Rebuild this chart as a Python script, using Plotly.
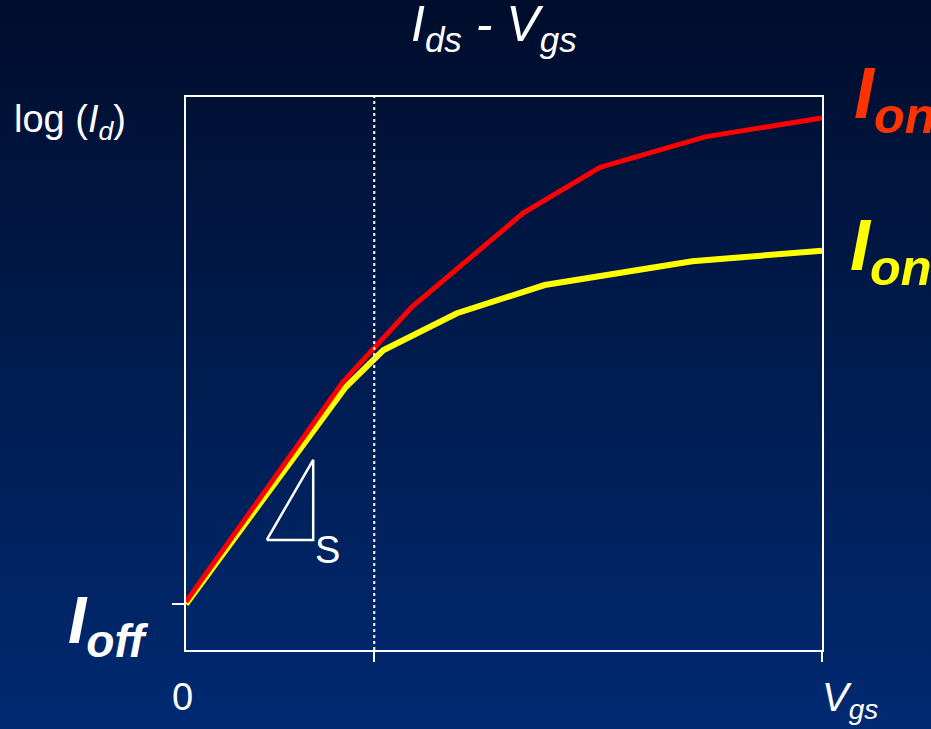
import base64
import plotly.graph_objects as go

# ---- data (Vgs in arbitrary units 0..10, log(Id) in arbitrary units 0..10) ----
vgs_yellow = [0, 2.5, 3.1, 4.26, 5.64, 7.96, 10]
logid_yellow = [0.83, 4.74, 5.42, 6.09, 6.60, 7.03, 7.22]

vgs_red = [0, 2.47, 3.55, 5.30, 6.51, 8.16, 10]
logid_red = [0.87, 4.85, 6.20, 7.90, 8.73, 9.28, 9.62]

vth = 2.96          # dotted vertical line position
ioff_level = 0.83   # y tick at Ioff
tri_x = [1.27, 2.00, 2.00, 1.27]
tri_y = [1.99, 3.44, 1.99, 1.99]

W, H = 931, 729
L, R, T, B = 186, 109, 97, 79
PW, PH = W - L - R, H - T - B
FONT = "Liberation Sans, Arial, sans-serif"


def px(x, y):
    return (x - L) / PW, (H - B - y) / PH


fig = go.Figure()
fig.add_trace(go.Scatter(x=vgs_yellow, y=logid_yellow, mode="lines",
                         line=dict(color="#ffff00", width=6), hoverinfo="skip"))
fig.add_trace(go.Scatter(x=vgs_red, y=logid_red, mode="lines",
                         line=dict(color="#ff0000", width=5), hoverinfo="skip"))
fig.add_trace(go.Scatter(x=tri_x, y=tri_y, mode="lines",
                         line=dict(color="white", width=2.5), hoverinfo="skip"))

fig.add_shape(type="line", x0=vth, x1=vth, y0=0, y1=10, xref="x", yref="y",
              line=dict(color="white", width=2, dash="dot"))

# gradient background via svg image
svg = ('<svg xmlns="http://www.w3.org/2000/svg" width="931" height="729">'
       '<defs><linearGradient id="g" x1="0" y1="0" x2="0" y2="1">'
       '<stop offset="0" stop-color="#000d2c"/>'
       '<stop offset="1" stop-color="#002a72"/>'
       '</linearGradient></defs>'
       '<rect width="931" height="729" fill="url(#g)"/></svg>')
src = "data:image/svg+xml;base64," + base64.b64encode(svg.encode()).decode()
x0, y0 = px(0, 0)
fig.add_layout_image(dict(source=src, xref="paper", yref="paper", x=x0, y=y0,
                          sizex=W / PW, sizey=H / PH, sizing="stretch",
                          xanchor="left", yanchor="top", layer="below"))


def ann(text, x, y, size, color="white", xanchor="center"):
    ax, ay = px(x, y)
    fig.add_annotation(text=text, x=ax, y=ay, xref="paper", yref="paper",
                       showarrow=False, xanchor=xanchor, yanchor="middle",
                       font=dict(family=FONT, size=size, color=color))


ann("<i>I<sub>ds</sub> - V<sub>gs</sub></i>", 494, 27, 50)
ann("log (<i>I<sub>d</sub></i>)", 12, 122, 38, xanchor="left")
ann("0", 182, 697, 38)
ann("<i>V<sub>gs</sub></i>", 820, 700, 40, xanchor="left")
ann("S", 327, 550, 38)
ann("<b><i>I<sub>on</sub></i></b>", 852, 99, 72, color="#ff3300", xanchor="left")
ann("<b><i>I<sub>on</sub></i></b>", 848, 250, 72, color="#ffff00", xanchor="left")
ann("<b><i>I<sub>off</sub></i></b>", 66, 625, 66, xanchor="left")

fig.update_layout(
    width=W, height=H, autosize=False,
    margin=dict(l=L, r=R, t=T, b=B, pad=0),
    paper_bgcolor="#00184a", plot_bgcolor="rgba(0,0,0,0)",
    showlegend=False, hovermode=False,
    xaxis=dict(range=[0, 10], showgrid=False, zeroline=False, showline=True,
               mirror=True, linecolor="white", linewidth=2,
               ticks="outside", tickvals=[vth, 10], ticklen=10,
               tickcolor="white", tickwidth=2, showticklabels=False),
    yaxis=dict(range=[0, 10], showgrid=False, zeroline=False, showline=True,
               mirror=True, linecolor="white", linewidth=2,
               ticks="outside", tickvals=[ioff_level], ticklen=12,
               tickcolor="white", tickwidth=2, showticklabels=False),
)

fig.write_html("out.html", config={"displayModeBar": False},
               post_script="document.body.style.margin='0';"
                           "document.body.style.overflow='hidden';")
